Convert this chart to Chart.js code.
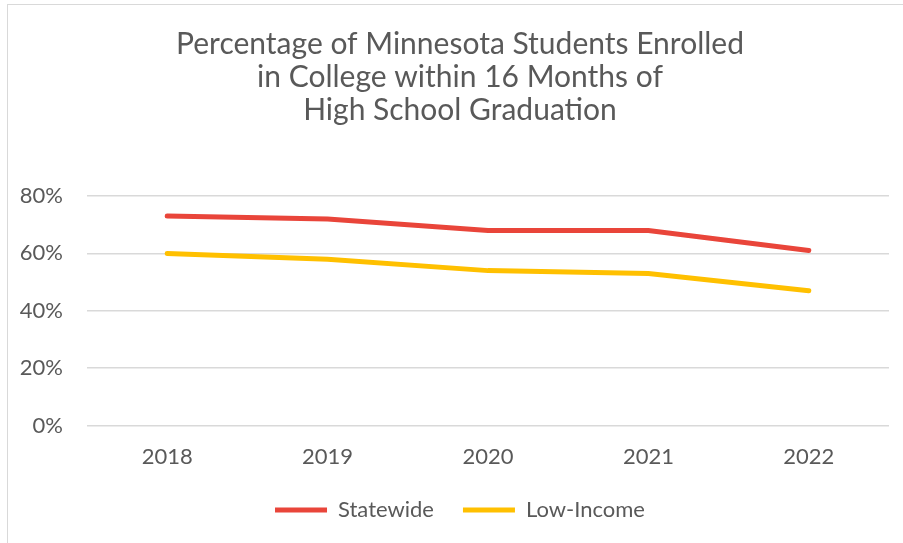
<!DOCTYPE html>
<html>
<head>
<meta charset="utf-8">
<script src="https://cdn.jsdelivr.net/npm/chart.js@4"></script>
<style>
  html, body { margin: 0; padding: 0; background: #fff; }
  #wrap { position: relative; width: 903px; height: 543px; overflow: hidden; }
  #frame { position: absolute; left: 7px; top: 4px; width: 960px; height: 600px;
           border-left: 1px solid #d9d9d9; border-top: 1px solid #d9d9d9; }
  canvas { position: absolute; left: 0; top: 0; }
</style>
</head>
<body>
<div id="wrap">
  <div id="frame"></div>
  <canvas id="chart" width="903" height="543"></canvas>
</div>
<script>
const years = ['2018', '2019', '2020', '2021', '2022'];
const statewide = [73, 72, 68, 68, 61];
const lowIncome = [60, 58, 54, 53, 47];
const yTicks = [0, 20, 40, 60, 80];

const textColor = '#595959';
const fontFamily = 'Lato, "Open Sans", sans-serif';

new Chart(document.getElementById('chart'), {
    type: 'line',
    data: {
        labels: years,
        datasets: [
            {
                label: 'Statewide',
                data: statewide,
                borderColor: '#E9453A',
                backgroundColor: '#E9453A',
                borderWidth: 5,
                borderCapStyle: 'round',
                pointRadius: 0,
                tension: 0
            },
            {
                label: 'Low-Income',
                data: lowIncome,
                borderColor: '#FFC000',
                backgroundColor: '#FFC000',
                borderWidth: 5,
                borderCapStyle: 'round',
                pointRadius: 0,
                tension: 0
            }
        ]
    },
    options: {
        responsive: false,
        animation: false,
        layout: { padding: { left: 17, right: 0, top: 0, bottom: 12 } },
        plugins: {
            title: {
                display: true,
                text: ['Percentage of Minnesota Students Enrolled', 'in College within 16 Months of', 'High School Graduation'],
                color: textColor,
                font: { family: fontFamily, size: 30, weight: 'normal', lineHeight: 1.1 },
                padding: { top: 28, bottom: 69 }
            },
            legend: {
                position: 'bottom',
                labels: {
                    color: textColor,
                    font: { family: fontFamily, size: 22 },
                    usePointStyle: true,
                    pointStyle: 'line',
                    pointStyleWidth: 52,
                    padding: 29
                }
            },
            tooltip: { enabled: false }
        },
        scales: {
            x: {
                offset: true,
                grid: { display: false, drawTicks: false },
                border: { display: false },
                ticks: { color: textColor, font: { family: fontFamily, size: 22 }, padding: 18 },
                afterFit: (s) => { s.height -= 18; }
            },
            y: {
                min: 0,
                max: 80,
                afterBuildTicks: (axis) => { axis.ticks = yTicks.map(v => ({ value: v })); },
                afterFit: (s) => { s.width = 70; },
                grid: { color: '#d9d9d9', lineWidth: 1.5, drawTicks: false },
                border: { display: false },
                ticks: {
                    color: textColor,
                    font: { family: fontFamily, size: 22 },
                    padding: 24,
                    callback: (v) => v + '%'
                }
            },
            // empty right-hand gutter
            yRight: {
                position: 'right',
                min: 0,
                max: 80,
                grid: { display: false, drawTicks: false },
                border: { display: false },
                ticks: { display: false },
                afterFit: (s) => { s.width = 14; }
            }
        }
    }
});
</script>
</body>
</html>
